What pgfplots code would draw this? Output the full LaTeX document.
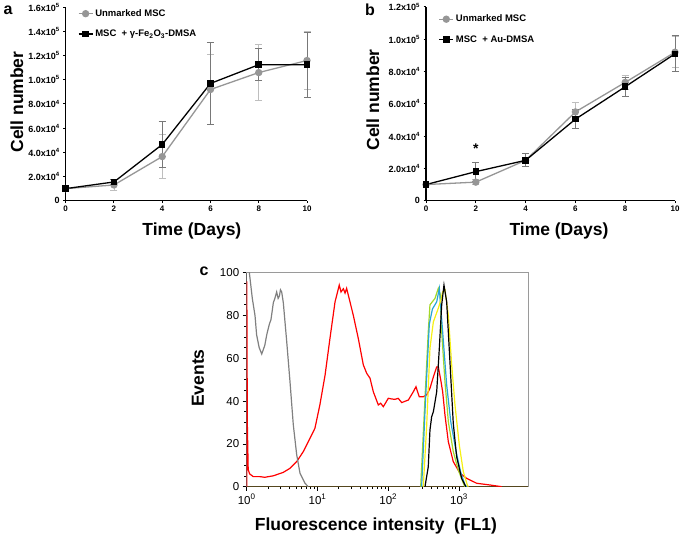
\documentclass[border=0pt]{standalone}
\usepackage{pgfplots}
\pgfplotsset{compat=1.18}
\usepackage{fontspec}
\setmainfont{Liberation Sans}

\definecolor{ltgray}{RGB}{150,150,150}
\definecolor{errgray}{RGB}{190,190,190}
\definecolor{errdark}{RGB}{120,120,120}
\definecolor{flgray}{RGB}{128,128,128}
\definecolor{flgreen}{RGB}{165,215,40}
\definecolor{flcyan}{RGB}{40,165,215}
\definecolor{flyellow}{RGB}{245,240,20}
\definecolor{flbase}{RGB}{85,70,30}

\pgfplotsset{
  growth/.style={
    scale only axis, anchor=south west, clip=false,
    xmin=0, xmax=10, ymin=0,
    axis lines=left, axis line style={line width=1.5pt,-},
    xtick={0,2,...,10},
    tick style={black, line width=1pt},
    tick align=outside, major tick length=2.5pt,
    scaled y ticks=false,
    /pgf/number format/assume math mode=true,
    xticklabel style={font=\bfseries\fontsize{8}{9}\selectfont, yshift=1pt},
    yticklabel style={font=\bfseries\fontsize{9}{10}\selectfont},
    label style={font=\bfseries\fontsize{17.5}{18}\selectfont},
    legend cell align=left,
    legend style={draw=none, fill=none, font=\bfseries\fontsize{9.5}{10}\selectfont,
      row sep=8pt, anchor=north west, inner sep=0pt},
    legend image code/.code={\draw[mark repeat=2,mark phase=2]
      plot coordinates {(0pt,0pt) (7pt,0pt) (14pt,0pt)};},
  },
  ctrl/.style={ltgray, line width=1.3pt, mark=*, mark size=3pt,
    mark options={ltgray, fill=ltgray, solid},
    error bars/.cd, y dir=both, y explicit,
    error bar style={errgray, line width=0.8pt},
    error mark options={rotate=90, errgray, mark size=3.5pt, line width=0.8pt}},
  trt/.style={black, line width=1.3pt, mark=square*, mark size=2.6pt,
    mark options={black, fill=black, solid},
    error bars/.cd, y dir=both, y explicit,
    error bar style={errdark, line width=0.8pt},
    error mark options={rotate=90, errdark, mark size=3.5pt, line width=0.8pt}},
}

% panel a: day, cell number, sd
\pgfplotstableread{
x y e
0 10000 0
2 13000 4500
4 36500 18000
6 92000 29000
8 106000 23300
10 116000 24000
}\ctrla
\pgfplotstableread{
x y e
0 10000 0
2 15500 2000
4 46500 19300
6 97000 33700
8 112500 13300
10 112500 27000
}\fea
% panel b
\pgfplotstableread{
x y e
0 10000 0
2 11500 1500
4 25000 4000
6 55000 6000
8 73300 4300
10 92000 9500
}\ctrlb
\pgfplotstableread{
x y e
0 10000 0
2 18000 5800
4 25000 4000
6 50500 5800
8 70600 5700
10 91000 11200
}\aub

\begin{document}
\begin{tikzpicture}[x=1pt,y=1pt]
\useasboundingbox (0,0) rectangle (685,541);

% ---------- a ----------
\begin{axis}[growth,
  at={(65.7pt,340.3pt)}, width=241.3pt, height=193.4pt,
  ymax=160000, ytick={0,20000,...,160000},
  yticklabels={0,2.0x10\textsuperscript{4},4.0x10\textsuperscript{4},6.0x10\textsuperscript{4},8.0x10\textsuperscript{4},1.0x10\textsuperscript{5},1.2x10\textsuperscript{5},1.4x10\textsuperscript{5},1.6x10\textsuperscript{5}},
  xlabel={Time (Days)}, ylabel={Cell number},
  xlabel style={at={(axis description cs:0.523,-0.157)}, anchor=center},
  ylabel style={at={(axis description cs:-0.202,0.51)}, anchor=center},
  legend style={at={(axis description cs:0.05,1.0)}},
]
\addplot[ctrl] table[x=x,y=y,y error=e] {\ctrla};
\addplot[trt] table[x=x,y=y,y error=e] {\fea};
\legend{Unmarked MSC, MSC\ \ + γ-Fe\textsubscript{2}O\textsubscript{3}-DMSA}
\end{axis}

% ---------- b ----------
\begin{axis}[growth,
  at={(426pt,340.3pt)}, width=249pt, height=193.7pt,
  ymax=120000, ytick={0,20000,...,120000},
  yticklabels={0,2.0x10\textsuperscript{4},4.0x10\textsuperscript{4},6.0x10\textsuperscript{4},8.0x10\textsuperscript{4},1.0x10\textsuperscript{5},1.2x10\textsuperscript{5}},
  xlabel={Time (Days)}, ylabel={Cell number},
  xlabel style={at={(axis description cs:0.534,-0.156)}, anchor=center},
  ylabel style={at={(axis description cs:-0.213,0.52)}, anchor=center},
  legend style={at={(axis description cs:0.05,0.97)}},
]
\addplot[ctrl] table[x=x,y=y,y error=e] {\ctrlb};
\addplot[trt] table[x=x,y=y,y error=e] {\aub};
\legend{Unmarked MSC, MSC\ \ + Au-DMSA}
\node[font=\bfseries\fontsize{14}{14}\selectfont] at (axis cs:2,32500) {*};
\end{axis}

% ---------- c ----------
\begin{axis}[
  at={(246.7pt,54.3pt)}, anchor=south west,
  scale only axis, width=281.6pt, height=214pt,
  xmode=log, xmin=1, xmax=9500, ymin=0, ymax=100,
  axis line style={flgray!80, line width=0.7pt},
  xtick pos=bottom, ytick pos=left,
  xtick={1,10,100,1000},
  xticklabels={10\textsuperscript{0},10\textsuperscript{1},10\textsuperscript{2},10\textsuperscript{3}},
  ytick={0,20,...,100}, minor y tick num=3,
  tick align=outside, major tick length=4pt, minor tick length=2.5pt,
  tick style={black, line width=0.7pt},
  /pgf/number format/assume math mode=true,
  ticklabel style={font=\fontsize{11.5}{12}\selectfont},
  label style={font=\bfseries\fontsize{17.5}{18}\selectfont},
  xlabel={Fluorescence intensity\ \ (FL1)}, ylabel={Events},
  xlabel style={at={(axis description cs:0.459,-0.184)}, anchor=center},
  ylabel style={at={(axis description cs:-0.173,0.508)}, anchor=center},
  every axis plot/.append style={line width=1.2pt, no marks},
]
\draw[black, line width=1pt] (rel axis cs:0,0) -- (rel axis cs:0,1);
\draw[flbase, line width=1.2pt] (rel axis cs:0,0) -- (rel axis cs:1,0);
% red
\addplot[red] coordinates {(1.0,0) (1.003,96) (1.02,30) (1.05,8) (1.1,6) (1.24,4.7)
 (1.54,4.7) (1.8,4.4) (2.38,5.1) (3.29,6.7) (4.09,8.6) (5.08,11.7) (6.3,16.4)
 (7.83,22.6) (9.2,27.3) (10.8,38.2) (12.8,52.2) (15,69.3) (17.7,86.4) (20.3,94.2)
 (21.5,91) (23.2,92.5) (24.5,90.5) (25.8,92.7) (27.2,89.6) (32,80.2) (37.7,69.3)
 (44.4,56.9) (49.5,53) (55.2,50.7) (61.4,44.4) (72.3,38.2) (78,39) (85.1,37.4)
 (100,41.3) (112,41) (124,40.8) (138,41.3) (155,39.3) (175,40) (192,40.5)
 (226,44.4) (246,46.7) (274,42) (312,42) (350,43) (388,46) (440,52) (483,56)
 (509,56) (550,50) (586,44.4) (632,33.5) (705,21) (828,11.7) (1030,6.3)
 (1280,3.9) (1774,1.6) (2730,0.8) (4000,0)};
% gray
\addplot[flgray] coordinates {(1.02,110) (1.09,100) (1.2,88) (1.31,80) (1.38,71)
 (1.5,65) (1.63,62) (1.8,66) (1.92,71) (2.09,76) (2.2,78) (2.38,86) (2.5,88)
 (2.65,91) (2.78,88) (2.89,89) (3.0,92) (3.12,91) (3.29,86) (3.67,68) (4.09,49)
 (4.55,29) (5.08,15) (5.66,6.3) (6.66,1.6) (7.4,0)};
% green
\addplot[flgreen] coordinates {(287,0) (330,41.3) (367,72.4) (388,85) (457,88)
 (509,92.7) (540,90) (568,72.4) (632,49) (705,30.4) (828,16.4) (975,7.8)
 (1148,1.6) (1210,0)};
% cyan
\addplot[flcyan] coordinates {(296,0) (335,40) (380,76) (420,83) (483,86.4)
 (526,92.7) (586,72.4) (668,47.5) (763,30.4) (908,16.4) (1050,7) (1211,0.8)
 (1290,0)};
% yellow
\addplot[flyellow] coordinates {(312,0) (348,28) (388,64.7) (433,77) (509,83.4)
 (560,88) (586,91.1) (632,92) (705,80.2) (786,57) (875,38.2) (1007,19.5)
 (1148,7) (1306,0.8) (1350,0)};
% black
\addplot[black] coordinates {(330,0) (367,9.3) (388,26.5) (410,32.7) (433,35)
 (483,44.4) (526,64.7) (568,85) (612,94.2) (668,86.4) (745,57.7) (828,29.6)
 (924,14) (1086,3.9) (1211,0.8) (1250,0)};
\end{axis}

\node[font=\bfseries\fontsize{16}{16}\selectfont] at (8,531) {a};
\node[font=\bfseries\fontsize{16}{16}\selectfont] at (370,531) {b};
\node[font=\bfseries\fontsize{16}{16}\selectfont] at (204,270) {c};
\end{tikzpicture}
\end{document}
